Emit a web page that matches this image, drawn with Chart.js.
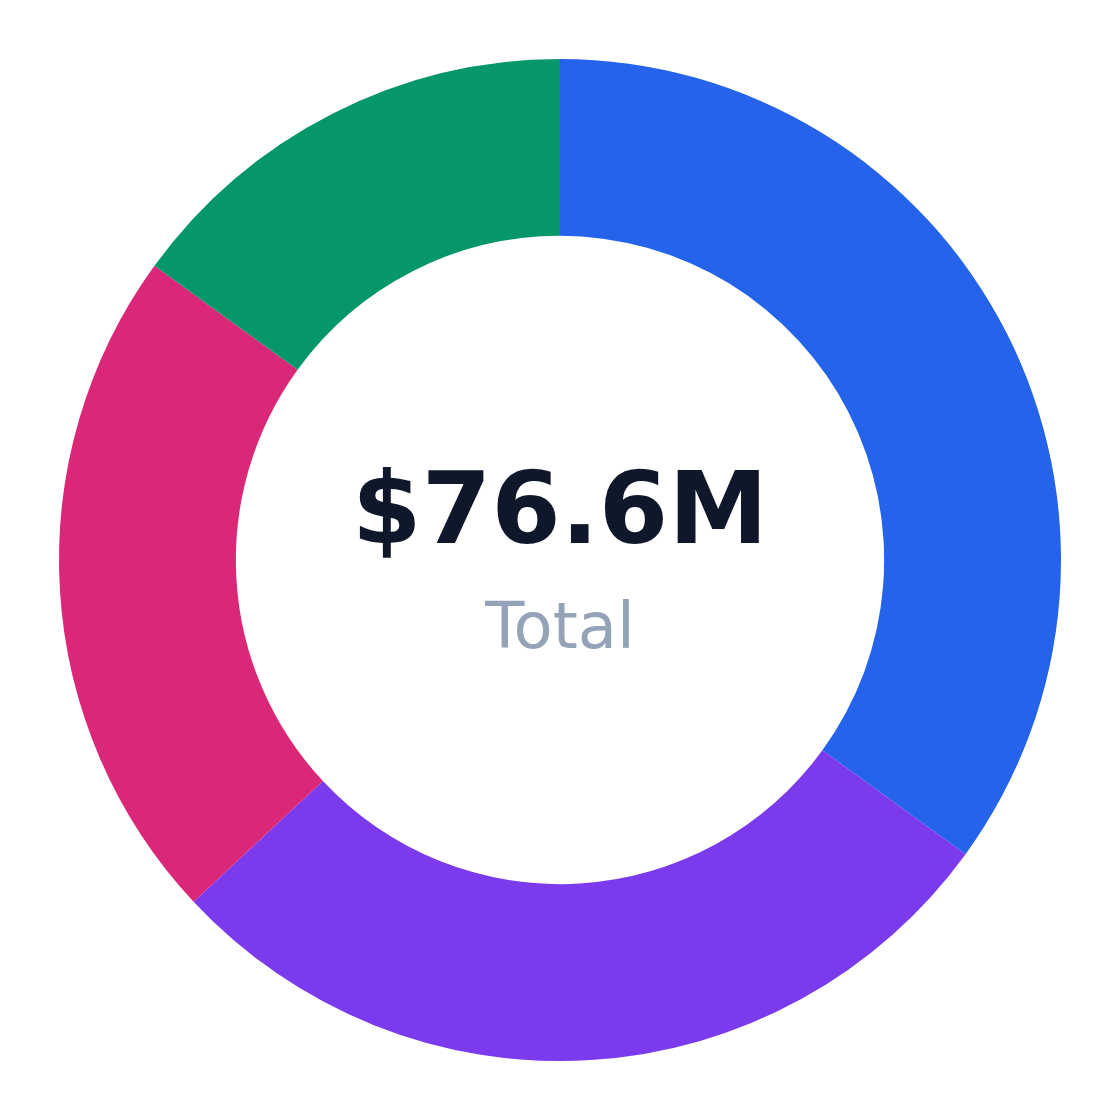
<!DOCTYPE html>
<html>
<head>
<meta charset="utf-8">
<script src="https://cdn.jsdelivr.net/npm/chart.js@4.4.1/dist/chart.umd.min.js"></script>
<style>
  html, body { margin: 0; padding: 0; background: #fff; }
  #wrap { width: 1120px; height: 1120px; }
</style>
</head>
<body>
<div id="wrap"><canvas id="graficoRosca"></canvas></div>
<script>
const categorias = ['A', 'B', 'C', 'D'];
const valores = [26.8, 21.5, 16.8, 11.5];
const cores = ['#2563eb', '#7c3aed', '#db2777', '#059669'];
const textoTotal = '$76.6M';
const textoLegenda = 'Total';

// texto no meio da rosca
const textoCentro = {
  id: 'textoCentro',
  afterDraw(chart) {
    const ctx = chart.ctx;
    const meta = chart.getDatasetMeta(0).data[0];
    const x = meta.x;
    const y = meta.y;
    ctx.save();
    ctx.textAlign = 'center';
    ctx.textBaseline = 'alphabetic';
    ctx.fillStyle = '#0f172a';
    ctx.font = 'bold 100px "DejaVu Sans"';
    ctx.fillText(textoTotal, x, y - 17);
    ctx.fillStyle = '#94a3b8';
    ctx.font = '64px "DejaVu Sans"';
    ctx.fillText(textoLegenda, x, y + 88);
    ctx.restore();
  }
};

const graficoRosca = new Chart(document.getElementById('graficoRosca'), {
  type: 'doughnut',
  data: {
    labels: categorias,
    datasets: [{
      data: valores,
      backgroundColor: cores,
      borderWidth: 0
    }]
  },
  options: {
    responsive: true,
    maintainAspectRatio: false,
    animation: false,
    cutout: '64.7%',
    layout: { padding: 59 },
    plugins: {
      legend: { display: false },
      tooltip: { enabled: false }
    }
  },
  plugins: [textoCentro]
});
</script>
</body>
</html>
